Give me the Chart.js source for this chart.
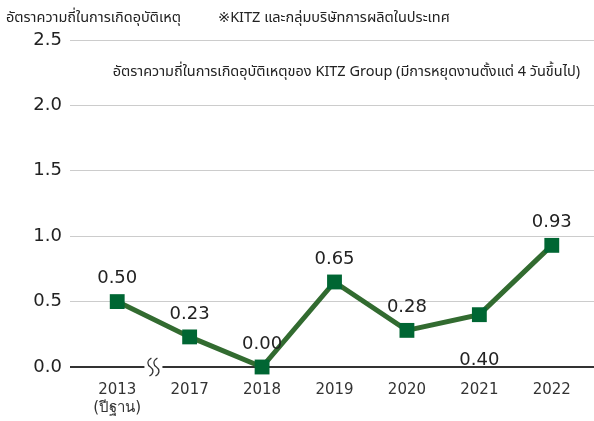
<!DOCTYPE html>
<html>
<head>
<meta charset="utf-8">
<script src="https://cdn.jsdelivr.net/npm/chart.js@4"></script>
<style>
html,body{margin:0;padding:0;background:#fff;}
#wrap{width:594px;height:421px;position:relative;}
</style>
</head>
<body>
<div id="wrap"><canvas id="c" width="594" height="421"></canvas></div>
<script>
const categories = [["2013","(ปีฐาน)"], "2017", "2018", "2019", "2020", "2021", "2022"];
const rateValues = [0.50, 0.23, 0.00, 0.65, 0.28, 0.40, 0.93];
const valueLabels = ["0.50", "0.23", "0.00", "0.65", "0.28", "0.40", "0.93"];
const labelBelow = [false, false, false, false, false, true, false];
const yTicks = [0, 0.5, 1.0, 1.5, 2.0, 2.5];
const titleText = "อัตราความถี่ในการเกิดอุบัติเหตุ";
const noteText = "※KITZ และกลุ่มบริษัทการผลิตในประเทศ";
const seriesName = "อัตราความถี่ในการเกิดอุบัติเหตุของ KITZ Group (มีการหยุดงานตั้งแต่ 4 วันขึ้นไป)";

const FONT = '"DejaVu Sans", Tahoma, sans-serif';
const THAI = 'Tahoma, "Noto Sans Thai", "DejaVu Sans", sans-serif';

const extras = {
  id: 'extras',
  afterDraw(chart) {
    const ctx = chart.ctx;
    const y = chart.scales.y, x = chart.scales.x;
    const area = chart.chartArea;
    ctx.save();
    yTicks.forEach(v => {
      const raw = y.getPixelForValue(v);
      const py = v === 0 ? Math.round(raw) : Math.floor(raw) + 0.5;
      ctx.beginPath();
      ctx.strokeStyle = v === 0 ? '#333' : '#cccccc';
      ctx.lineWidth = v === 0 ? 2 : 1;
      ctx.moveTo(area.right, py);
      ctx.lineTo(594, py);
      ctx.stroke();
    });
    const bx = (x.getPixelForValue(0) + x.getPixelForValue(1)) / 2;
    const by = y.getPixelForValue(0);
    ctx.fillStyle = '#fff';
    ctx.fillRect(bx - 9, by - 4, 18, 8);
    ctx.strokeStyle = '#333';
    ctx.lineWidth = 1.3;
    [-3, 3].forEach(dx => {
      ctx.beginPath();
      const cx = bx + dx;
      ctx.moveTo(cx + 1, by - 9);
      ctx.bezierCurveTo(cx - 4, by - 6, cx - 3, by - 2, cx, by);
      ctx.bezierCurveTo(cx + 3, by + 2, cx + 4, by + 6, cx - 1, by + 9);
      ctx.stroke();
    });
    ctx.fillStyle = '#222';
    ctx.font = '18px ' + FONT;
    ctx.textAlign = 'center';
    ctx.textBaseline = 'middle';
    const meta = chart.getDatasetMeta(0);
    meta.data.forEach((pt, i) => {
      const ty = labelBelow[i] ? pt.y + 46 : pt.y - 23;
      ctx.fillText(valueLabels[i], pt.x, ty);
    });
    ctx.textAlign = 'left';
    ctx.textBaseline = 'middle';
    ctx.fillStyle = '#222';
    ctx.font = '14.5px ' + THAI;
    ctx.fillText(titleText, 6, 19);
    ctx.fillText(noteText, 218, 19);
    ctx.textAlign = 'right';
    ctx.fillText(seriesName, 580, 73);
    ctx.restore();
  }
};

new Chart(document.getElementById('c'), {
  type: 'line',
  data: {
    labels: categories,
    datasets: [{
      label: seriesName,
      data: rateValues,
      borderColor: '#326b30',
      borderWidth: 5,
      pointStyle: 'rect',
      pointRadius: 10.5,
      pointBackgroundColor: '#006633',
      pointBorderColor: '#006633',
      pointBorderWidth: 0,
      tension: 0,
      clip: false
    }]
  },
  options: {
    responsive: false,
    animation: false,
    devicePixelRatio: 1,
    layout: { autoPadding: false, padding: { top: 40, right: 6, left: 0, bottom: 0 } },
    plugins: { legend: { display: false }, tooltip: { enabled: false } },
    scales: {
      x: {
        offset: true,
        grid: { display: false, drawTicks: false },
        border: { display: false },
        ticks: { color: '#333', font: { size: 15, family: FONT }, padding: 14, maxRotation: 0, autoSkip: false },
        afterFit(s) { s.height = 54; s.paddingLeft = 0; s.paddingRight = 0; }
      },
      y: {
        min: 0, max: 2.5,
        afterBuildTicks(s) { s.ticks = yTicks.map(v => ({ value: v })); },
        grid: {
          color: c => c.tick && c.tick.value === 0 ? '#333' : '#cccccc',
          lineWidth: c => c.tick && c.tick.value === 0 ? 2 : 1,
          tickColor: c => c.tick && c.tick.value === 0 ? '#333' : '#cccccc',
          tickLength: 11,
          drawTicks: true
        },
        border: { display: false },
        ticks: {
          color: '#222', font: { size: 18, family: FONT }, padding: 8,
          callback: v => Number(v).toFixed(1)
        },
        afterFit(s) { s.width = 81; s.paddingTop = 0; s.paddingBottom = 0; }
      }
    }
  },
  plugins: [extras]
});
</script>
</body>
</html>
